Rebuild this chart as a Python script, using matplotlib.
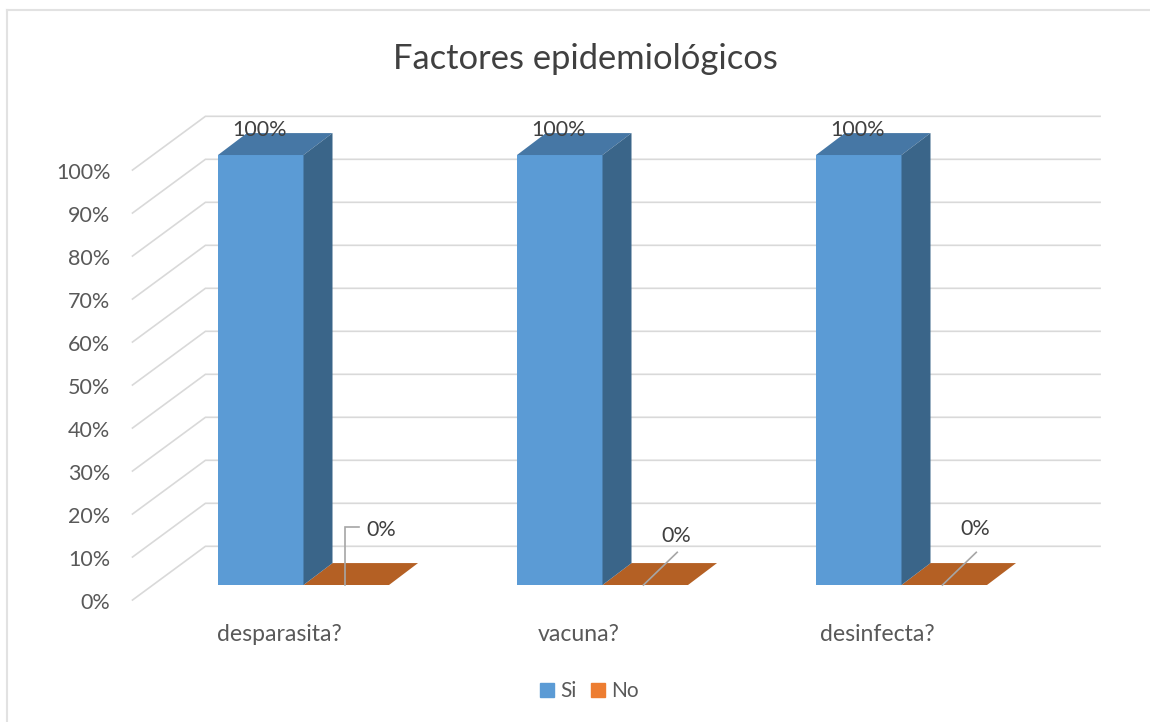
import matplotlib
matplotlib.use('Agg')
import matplotlib.pyplot as plt
from matplotlib.lines import Line2D
from matplotlib.patches import Patch

plt.rcParams['font.family'] = ['Lato', 'DejaVu Sans']

categories = ['desparasita?', 'vacuna?', 'desinfecta?']
si = [100, 100, 100]
no = [0, 0, 0]
ticks = list(range(0, 110, 10))

# colours
blue = '#5b9bd5'
blue_top = '#4677a5'
blue_side = '#3a6589'
orange = '#ed7d31'
orange_floor = '#b46024'
grid = '#d9d9d9'
text = '#404040'
text2 = '#595959'

# fake 3d depth, in data units
width = 0.286
dx = 0.097
dy = 5.1
wall_x0 = -0.572
wall_x1 = -0.328
wall_x2 = 2.664
wall_low = -3.5
wall_high = 9.0

# 0% labels, offsets from the group centre
label_x = [0.21, 0.245, 0.247]
label_y = [12.7, 11.4, 13.1]

fig = plt.figure(figsize=(11.5, 7.22), dpi=100)
ax = fig.add_axes([0, 0, 1, 1])
ax.set_xlim(-303.5 / 299, 846.5 / 299)
ax.set_ylim(-31.86, 136.05)
ax.axis('off')

# chart border
fig.add_artist(Line2D([0.0057, 0.0057], [0, 0.986], color='#e2e2e2', lw=1.5))
fig.add_artist(Line2D([0.0057, 1], [0.986, 0.986], color='#e2e2e2', lw=1.5))

# side wall and back wall lines
for t in ticks:
    ax.plot([wall_x0, wall_x1, wall_x2],
            [t + wall_low, t + wall_high, t + wall_high],
            color=grid, lw=1.2, zorder=1, solid_joinstyle='miter')
    ax.text(wall_x0 - 0.074, t + wall_low - 0.7, f'{t}%', ha='right', va='center',
            fontsize=15.5, color=text2)

for i, name in enumerate(categories):
    # Si bar: front, top, side
    ax.bar(i, si[i], width=-width, align='edge', color=blue, zorder=3)
    ax.fill([i - width, i, i + dx, i - width + dx],
            [si[i], si[i], si[i] + dy, si[i] + dy], color=blue_top, lw=0, zorder=3)
    ax.fill([i, i + dx, i + dx, i],
            [0, dy, si[i] + dy, si[i]], color=blue_side, lw=0, zorder=3)

    # No bar, value 0 so only the floor shows
    ax.fill([i, i + width, i + width + dx, i + dx],
            [no[i], no[i], no[i] + dy, no[i] + dy], color=orange_floor, lw=0, zorder=2)

    ax.text(i - width + 0.14, si[i] + 5.9, f'{si[i]}%', ha='center', va='center',
            fontsize=15.5, color=text, zorder=4)

    if i == 0:
        ax.plot([i + 0.14, i + 0.14, i + 0.184], [no[i], 13.4, 13.4],
                color='#a6a6a6', lw=1.2, zorder=4, solid_joinstyle='miter')
        ax.text(i + label_x[i], label_y[i], f'{no[i]}%', ha='left', va='center',
                fontsize=15.5, color=text, zorder=4)
    else:
        ax.plot([i + 0.137, i + 0.25], [no[i], 7.6],
                color='#a6a6a6', lw=1.2, zorder=4)
        ax.text(i + label_x[i], label_y[i], f'{no[i]}%', ha='center', va='center',
                fontsize=15.5, color=text, zorder=4)

    ax.text(i - 0.08, -11.6, name, ha='center', va='center',
            fontsize=16.6, color=text2)

ax.text(0.943, 122.4, 'Factores epidemiológicos', ha='center', va='center',
        fontsize=24.8, color=text)

leg = ax.legend(handles=[Patch(color=blue, label='Si'), Patch(color=orange, label='No')],
                ncols=2, loc='center', bbox_to_anchor=(0.5125, 0.043), frameon=False,
                fontsize=15, handlelength=0.67, handleheight=0.67, handletextpad=0.29,
                columnspacing=0.67, labelcolor=text2)

fig.savefig('out.png', dpi=100)
